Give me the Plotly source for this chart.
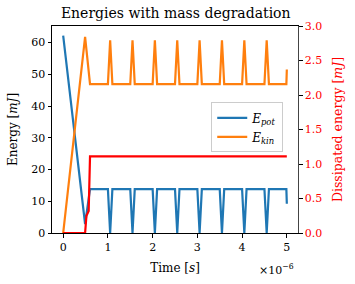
import plotly.graph_objects as go

# time in units of 1e-6 s
time = [0, 0.49, 0.6, 1.0, 1.05, 1.1, 1.5, 1.55, 1.6, 2.0, 2.05, 2.1, 2.5, 2.55, 2.6,
        3.0, 3.05, 3.1, 3.5, 3.55, 3.6, 4.0, 4.05, 4.1, 4.5, 4.55, 4.6, 4.99, 5.0]
e_pot = [62.2, 2.8, 13.8, 13.8, 0.0, 13.8, 13.8, 0.0, 13.8, 13.8, 0.0, 13.8, 13.8, 0.0, 13.8,
         13.8, 0.0, 13.8, 13.8, 0.0, 13.8, 13.8, 0.0, 13.8, 13.8, 0.0, 13.8, 13.8, 9.2]
e_kin = [0.0, 61.8, 46.9, 46.9, 60.7, 46.9, 46.9, 60.7, 46.9, 46.9, 60.7, 46.9, 46.9, 60.7, 46.9,
         46.9, 60.7, 46.9, 46.9, 60.7, 46.9, 46.9, 60.7, 46.9, 46.9, 60.7, 46.9, 46.9, 51.5]
time_diss = [0, 0.49, 0.52, 0.57, 0.6, 5.0]
e_diss = [0.0, 0.0, 0.25, 0.32, 1.11, 1.11]

x_ticks = [0, 1, 2, 3, 4, 5]
y_ticks = [0, 10, 20, 30, 40, 50, 60]
y2_ticks = [0.0, 0.5, 1.0, 1.5, 2.0, 2.5, 3.0]

FONT = "DejaVu Serif"

fig = go.Figure()
fig.add_trace(go.Scatter(x=time, y=e_pot, mode="lines", name="<i>E</i><sub><i>pot</i></sub>",
                         line=dict(color="#1f77b4", width=2.2)))
fig.add_trace(go.Scatter(x=time, y=e_kin, mode="lines", name="<i>E</i><sub><i>kin</i></sub>",
                         line=dict(color="#ff7f0e", width=2.2)))
fig.add_trace(go.Scatter(x=time_diss, y=e_diss, mode="lines", yaxis="y2", showlegend=False,
                         line=dict(color="red", width=2.2)))

fig.update_layout(
    width=355, height=284,
    margin=dict(l=51, r=55, t=26, b=49),
    paper_bgcolor="white", plot_bgcolor="white",
    font=dict(family=FONT, size=11, color="black"),
    title=dict(text="Energies with mass degradation", x=0.495, xanchor="center",
               y=0.955, yanchor="middle", font=dict(size=14, family=FONT)),
    xaxis=dict(range=[-0.25, 5.25], tickvals=x_ticks, ticktext=[str(v) for v in x_ticks],
               showline=True, linecolor="black", linewidth=1, mirror=True,
               ticks="outside", ticklen=3.5, tickcolor="black", showgrid=False, zeroline=False,
               title=dict(text="Time [<i>s</i>]", standoff=10, font=dict(size=12))),
    yaxis=dict(range=[0, 65.2], tickvals=y_ticks, showline=True, linecolor="black", linewidth=1,
               ticks="outside", ticklen=3.5, tickcolor="black", showgrid=False, zeroline=False,
               title=dict(text="Energy [<i>mJ</i>]", standoff=11, font=dict(size=12))),
    yaxis2=dict(range=[0, 3.0], tickvals=y2_ticks, ticktext=[f"{v:.1f}" for v in y2_ticks],
                overlaying="y", side="right", showline=True, linecolor="#444", linewidth=1,
                ticks="outside", ticklen=3.5, tickcolor="black", showgrid=False, zeroline=False,
                tickfont=dict(color="red", size=11),
                title=dict(text="Dissipated energy [<i>mJ</i>]", standoff=12,
                           font=dict(size=12.5, color="red"))),
    legend=dict(x=0.94, xanchor="right", y=0.51, yanchor="middle",
                bgcolor="rgba(255,255,255,0.85)", bordercolor="#cccccc", borderwidth=1,
                font=dict(size=12, family=FONT), tracegroupgap=0),
    showlegend=True,
)

fig.add_annotation(text="×10<sup>−6</sup>", xref="paper", yref="paper", x=0.99, y=-0.175,
                   xanchor="right", yanchor="middle", showarrow=False, font=dict(size=11, family=FONT))

fig.write_html("out.html", config={"displayModeBar": False},
               post_script="document.body.style.margin='0px';")
